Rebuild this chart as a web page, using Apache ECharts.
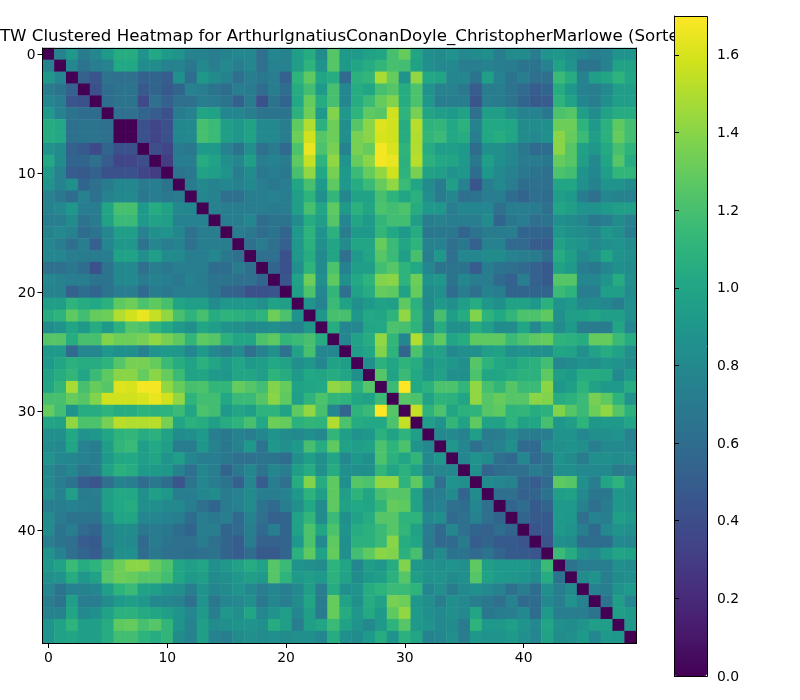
<!DOCTYPE html>
<html><head><meta charset="utf-8">
<style>html,body{margin:0;padding:0;background:#fff}#c{width:800px;height:700px}</style>
<script src="https://cdn.jsdelivr.net/npm/echarts@6/dist/echarts.min.js"></script>
</head><body><div id="c"></div>
<script>
const titleText = "DTW Clustered Heatmap for ArthurIgnatiusConanDoyle_ChristopherMarlowe (Sorted)";
const tickLabels = [0, 10, 20, 30, 40];
const barTicks = [0, 0.2, 0.4, 0.6, 0.8, 1.0, 1.2, 1.4, 1.6];
const viridis = ["#440154","#481a6c","#472f7d","#414487","#39568c","#31688e","#2a788e","#23888e","#1f988b","#22a884","#35b779","#54c568","#7ad151","#a5db36","#d2e21b","#fde725"];
// Upper triangle of the symmetric distance matrix, read row by row (row i holds columns i+1..49).
const upper = [
[.75,.9,.7,.78,.92,1.05,1.05,.88,1.02,.92,.88,.75,.75,.72,.76,.78,.78,.62,.78,.75,.95,1.05,.82,1.25, .92,.92,.98,1.0,1.2,1.3,1.0,.85,.82,.88,.8,.82,.85,.72,.82,.82,.72,.88,.9,.85,.78,.72,.75,.88,.88],
[.78,.65,.72,.75,1.02,1.02,.82,.82,.75,.75,.68,.8,.72,.8,.72,.78,.62,.75,.75,.95,1.1,.88,1.25, .92,1.0,1.05,1.12,1.2,1.18,.98,.85,.8,.8,.72,.72,.75,.72,.7,.65,.65,.75,.98,.88,.65,.65,.75,.98,.98],
[.52,.45,.65,.62,.62,.52,.55,.5,.85,.6,.9,.82,.75,.62,.72,.68,.72,.52,1.1,1.28,1.0,1.05, .58,1.08,1.12,1.48,1.3,.88,1.42,1.02,1.0,.78,.78,.65,.95,.75,.65,.72,.62,.62,1.15,1.05,.75,.95,1.0,1.1,1.0],
[.42,.6,.65,.65,.48,.55,.48,.55,.75,.72,.65,.6,.72,.7,.6,.72,.6,1.05,1.18,.92,1.2, .78,1.05,1.0,1.2,1.25,1.05,1.22,.88,.75,.75,.68,.5,.7,.72,.65,.58,.5,.55,1.05,.9,.75,.72,.8,.95,.95],
[.6,.65,.65,.38,.62,.52,.62,.62,.72,.7,.65,.52,.7,.42,.65,.55,1.02,1.3,1.05,1.2, .78,1.05,1.15,1.3,1.38,1.05,1.22,.9,.72,.72,.72,.45,.72,.7,.65,.55,.48,.5,1.1,.98,.78,.72,.85,.95,.95],
[.62,.62,.55,.5,.42,.7,.75,1.0,.98,.78,.78,.72,.65,.65,.65,1.08,1.32,.92,1.38, .9,1.1,1.28,1.25,1.58,1.1,1.35,1.0,.95,.92,.98,.62,.95,.95,.85,.75,.75,.68,1.22,1.25,.95,.82,.98,1.05,1.05],
[0,.42,.35,.42,.78,.8,1.2,1.15,.95,.9,.98,.8,.8,.72,1.28,1.5,1.08,1.32, .85,1.25,1.4,1.62,1.58,1.05,1.52,1.1,1.12,1.02,1.08,.75,1.02,1.02,1.0,.82,.82,.85,1.32,1.32,1.1,.92,1.08,1.28,1.18],
[.42,.35,.42,.78,.8,1.2,1.15,.95,.9,.98,.8,.8,.72,1.32,1.58,1.25,1.32, .85,1.35,1.4,1.6,1.58,1.05,1.5,1.12,1.15,1.02,1.05,.72,1.02,1.05,1.0,.82,.8,.85,1.4,1.3,1.15,.95,1.08,1.3,1.18],
[.4,.35,.7,.68,.92,.92,.75,.65,.85,.62,.7,.58,1.22,1.65,1.22,1.35, .75,1.35,1.3,1.68,1.6,1.1,1.5,1.05,.95,.95,.92,.6,.85,.85,.78,.68,.58,.6,1.4,1.25,.98,.9,1.03,1.2,1.1],
[.3,.72,.72,1.05,.98,.85,.78,.95,.72,.75,.7,1.28,1.55,1.1,1.42, .88,1.3,1.4,1.68,1.65,1.08,1.52,1.08,1.02,1.0,.92,.68,.95,.85,.78,.7,.7,.68,1.3,1.25,.95,.8,1.0,1.25,1.05],
[.65,.68,.98,.95,.88,.72,.82,.68,.72,.68,1.2,1.42,1.02,1.35, .92,1.15,1.3,1.42,1.58,1.1,1.35,.98,.95,.88,.9,.6,.9,.8,.75,.68,.65,.62,1.22,1.18,.88,.78,.95,1.12,1.12],
[.7,.8,.75,.78,.75,.8,.72,.68,.72,1.0,1.2,.92,1.28, .9,1.05,1.15,1.3,1.42,1.15,1.0,.82,.7,.95,.75,.45,.72,.8,.72,.6,.62,.62,1.0,1.0,.85,.75,.88,.88,.82],
[.78,.75,.62,.62,.72,.72,.75,.72,.95,1.1,.85,1.12, .78,.98,.98,1.2,1.1,1.0,1.08,.85,.7,.78,.62,.65,.72,.72,.6,.55,.62,.6,.95,.92,.72,.62,.78,.75,.75],
[.75,.72,.72,.72,.72,.7,.72,.95,1.2,1.0,1.28, .92,1.08,1.0,1.22,1.18,1.22,1.05,.92,.9,.72,.78,.78,.78,.62,.72,.72,.7,.62,1.0,.95,.88,.88,.92,.95,.95],
[.72,.72,.78,.6,.65,.65,.82,1.05,.95,1.25, .78,1.0,.92,1.12,1.18,1.18,.95,.72,.75,.72,.72,.72,.82,.55,.68,.72,.62,.65,.85,.82,.78,.68,.72,.82,.75],
[.72,.68,.6,.65,.55,.9,1.1,.88,1.08, .72,.92,.9,1.12,1.02,.92,1.05,.68,.68,.68,.55,.65,.7,.7,.72,.55,.55,.55,.9,.85,.82,.78,.9,.85,.72],
[.62,.7,.62,.52,.9,1.08,.85,1.0, .82,1.0,1.0,1.3,1.15,1.0,1.1,.75,.75,.62,.68,.52,.75,.75,.58,.58,.5,.5,.98,.9,.88,.8,.85,.88,.82],
[.62,.62,.42,.9,1.05,.8,1.0, .62,.92,1.0,1.25,1.15,.95,1.2,.72,.9,.62,.78,.78,.82,.82,.75,.72,.7,.6,1.05,.95,.8,.85,1.0,.88,.85],
[.55,.42,.85,1.1,.82,1.22, .75,.95,.95,1.18,1.25,1.1,1.02,.78,.65,.65,.65,.5,.72,.65,.62,.58,.52,.48,.98,.92,.72,.68,.78,.85,.82],
[.45,.98,1.32,.85,1.28, .85,1.02,1.1,1.38,1.4,1.1,1.32,.88,.9,.65,.78,.72,.72,.58,.52,.72,.52,.48,1.25,1.25,.78,.78,.88,1.05,.85],
[.95,1.22,.78,1.12, .62,.98,1.05,1.3,1.28,.98,1.3,.82,.85,.6,.72,.62,.75,.72,.55,.55,.55,.55,1.15,1.1,.72,.72,.95,.95,.82],
[.88,.75,1.15, .98,.85,.92,.98,.95,1.28,1.08,.8,.92,.85,.95,1.05,.9,.85,.98,.98,.9,1.08,.88,.92,.8,.82,.78,.72,.85],
[.9,1.2, 1.2,.9,1.02,1.0,1.1,1.42,1.12,.85,1.2,.95,1.05,1.38,1.1,1.02,1.12,1.22,1.22,1.28,.85,.95,.95,1.0,.95,.95,.85],
[1.05, .78,.78,1.0,1.02,1.22,1.2,1.1,.8,1.05,.85,.85,1.05,.95,.82,.82,1.0,.8,.98,.82,.92,.72,.7,.7,1.0,.78],
[.78,.98,1.05,1.42,1.12,.78,1.5,1.12,1.28,1.0,1.05,1.28,1.28,1.28,1.15,1.22,1.28,1.3,1.1,1.08,1.05,1.3,1.3,1.15,1.05],
[.95,1.0,1.38,1.1,.55,1.22,.95,.98,.8,.85,.85,.95,.98,.85,.88,.85,.85,1.0,.98,.85,.98,1.05,.98,.85],
[.85,1.08,1.0,1.1,1.05,.88,.95,.9,.85,1.25,1.1,1.02,.98,1.05,1.08,1.18,.78,.82,.88,.85,.9,.88,.82],
[1.25,.98,1.15,1.02,.9,.98,.85,.85,1.22,1.0,1.0,1.05,1.08,1.08,1.28,.95,.92,1.05,1.05,1.03,.8,.92],
[1.15,1.7,1.02,1.08,1.22,1.22,1.12,1.42,1.2,1.12,1.25,1.15,1.15,1.4,.9,.95,1.1,.98,.92,.92,1.05],
[1.25,1.22,.98,1.1,1.08,1.0,1.42,1.25,1.3,1.25,1.25,1.4,1.38,1.05,1.08,1.15,1.35,1.28,1.1,.88],
[1.55,1.1,1.22,1.0,1.08,1.1,1.25,1.28,1.1,1.12,1.05,1.08,1.38,1.25,1.15,1.32,1.42,1.25,1.08],
[.95,.88,1.12,.98,1.28,.98,.98,1.1,.98,1.0,1.2,.9,.95,1.1,.9,.92,.92,1.0],
[.8,.8,.75,.95,.7,.72,.8,.72,.7,.72,.88,.88,.78,.85,.85,.88,.75],
[.9,.78,.62,.72,.75,.85,.58,.58,.82,.85,.88,.85,.72,.8,.8,.78],
[.78,.88,.82,.62,.58,.78,.58,.65,.88,.82,.7,.85,.85,.82,.85],
[.85,.55,.6,.62,.62,.7,.65,.85,.85,.8,.8,.8,.7,.72],
[.82,.78,.75,.55,.5,.58,1.28,1.25,.85,.72,1.0,1.1,.9],
[.62,.62,.52,.55,.65,.95,.98,.8,.68,.68,.9,.88],
[.55,.6,.48,.55,.92,.92,.75,.62,.7,.9,.88],
[.55,.48,.48,.92,.9,.62,.75,.72,.95,.92],
[.45,.48,.92,.88,.72,.58,.8,.88,.85],
[.45,.85,.82,.6,.6,.6,.8,.78],
[1.15,1.05,.85,.8,.92,1.0,.98],
[.65,.72,.72,.72,.85,.82],
[.82,.88,.72,.82,.85],
[.75,.72,.88,.92],
[.65,.95,.78],
[.95,.92],
[.9]
];
const n = 50;
const categories = Array.from({length: n}, (_, i) => String(i));
const cells = [];
for (let i = 0; i < n; i++) {
  cells.push([i, i, 0]);
  for (let j = i + 1; j < n; j++) {
    const v = upper[i][j - i - 1];
    cells.push([j, i, v], [i, j, v]);
  }
}
const font = "DejaVu Sans";
const line = {show: true, onZero: false, lineStyle: {color: "#000", width: 1}};
const tick = {show: true, length: 5, alignWithLabel: true, lineStyle: {color: "#000", width: 1}};
const labelX = {color: "#000", fontFamily: font, fontSize: 13.9, interval: (i) => tickLabels.includes(i), margin: 8};
const labelY = Object.assign({}, labelX, {margin: 7, verticalAlign: "top", padding: [-6, 0, 0, 0]});
const chart = echarts.init(document.getElementById("c"), null, {renderer: "canvas"});
chart.setOption({
  animation: false,
  backgroundColor: "#fff",
  title: {text: titleText, left: 336.5, top: 23, textAlign: "center", z: 1,
    textStyle: {color: "#000", fontFamily: font, fontSize: 16.67, fontWeight: "normal"}},
  grid: [
    {left: 42.5, top: 48, width: 594, height: 595, containLabel: false},
    {left: 674, top: 16, width: 33, height: 660, containLabel: false, show: false}
  ],
  xAxis: [
    {type: "category", data: categories, gridIndex: 0, position: "bottom", z: 5, axisLine: line, axisTick: Object.assign({}, tick, {interval: (i) => tickLabels.includes(i)}), axisLabel: labelX, splitLine: {show: false}, splitArea: {show: false}},
    {type: "category", data: categories, gridIndex: 0, position: "top", z: 5, axisLine: line, axisTick: {show: false}, axisLabel: {show: false}},
    {type: "value", gridIndex: 1, min: 0, max: 1, show: false}
  ],
  yAxis: [
    {type: "category", data: categories, gridIndex: 0, inverse: true, position: "left", z: 5, axisLine: line, axisTick: Object.assign({}, tick, {interval: (i) => tickLabels.includes(i)}), axisLabel: labelY, splitLine: {show: false}, splitArea: {show: false}},
    {type: "category", data: categories, gridIndex: 0, inverse: true, position: "right", z: 5, axisLine: line, axisTick: {show: false}, axisLabel: {show: false}},
    {type: "value", gridIndex: 1, min: 0, max: 1.7, interval: 0.2, position: "right", z: 8, splitLine: {show: false},
      axisLine: {show: true, lineStyle: {color: "#000", width: 1}},
      axisTick: {show: true, length: 5, lineStyle: {color: "#000", width: 1}, customValues: barTicks},
      axisLabel: {color: "#000", fontFamily: font, fontSize: 13.9, margin: 10, verticalAlign: "top", padding: [-6, 0, 0, 0], customValues: barTicks, formatter: (v) => v.toFixed(1)}}
  ],
  visualMap: {type: "continuous", seriesIndex: 0, min: 0, max: 1.7, calculable: false, realtime: false, show: true,
    left: 674, top: 16, itemWidth: 33, itemHeight: 660, text: ["", ""], showLabel: false, padding: 0, z: 4,
    inRange: {color: viridis}, textStyle: {fontSize: 0}},
  series: [
    {type: "heatmap", xAxisIndex: 0, yAxisIndex: 0, data: cells, silent: true, progressive: 0, emphasis: {disabled: true}},
    {type: "line", xAxisIndex: 2, yAxisIndex: 2, data: [], silent: true}
  ],
  graphic: [{type: "rect", silent: true, z: 20, shape: {x: 674.5, y: 16.5, width: 33, height: 660}, style: {fill: "none", stroke: "#000", lineWidth: 1}}]
});
</script></body></html>
